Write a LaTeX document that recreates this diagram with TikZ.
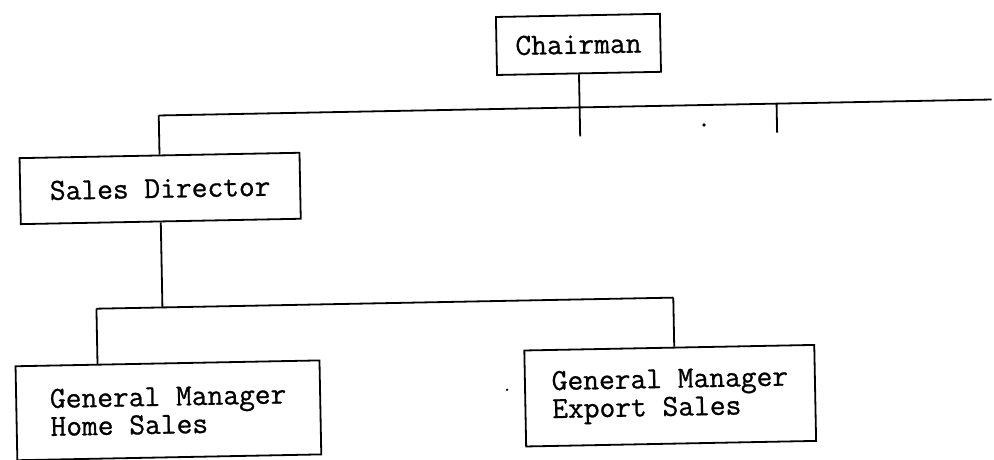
\documentclass[tikz,border=0pt]{standalone}
\usepackage{fontspec}
\setmonofont{Latin Modern Mono}[FakeBold=0.8]
\begin{document}
\begin{tikzpicture}[x=1pt,y=1pt,
  line width=1.8pt,
  orgbox/.style={draw, rectangle, inner sep=0pt, align=left,
    font=\fontsize{30.6}{28}\selectfont\ttfamily},
  link/.style={draw, line width=1.8pt}]
\useasboundingbox (0,0) rectangle (994,460);
\begin{scope}[rotate around={1.1:(497,230)}, transform shape]
  % boxes
  \node[orgbox, minimum width=164pt, minimum height=58pt] (chair) at (582,414) {Chairman};
  \node[orgbox, minimum width=280pt, minimum height=66pt] (sales) at (161,278) {Sales Director};
  \node[orgbox, minimum width=304pt, minimum height=94pt] (home) at (165,56) {General Manager\\Home Sales};
  \node[orgbox, minimum width=290pt, minimum height=96pt] (export) at (667,61) {General Manager\\Export Sales};
  % upper bus and its drop lines
  \coordinate (busL) at (161,351);
  \coordinate (busR) at (994,351);
  \coordinate (chairEnd) at (582,322);
  \coordinate (tick) at (779,351);
  \coordinate (tickEnd) at (779,322);
  \draw[link] (chair.south) -- (chairEnd);
  \draw[link] (busL) -- (busR);
  \draw[link] (busL) -- (sales.north);
  \draw[link] (tick) -- (tickEnd);
  % lower bus
  \coordinate (lowL) at (95,159);
  \coordinate (lowR) at (672,159);
  \draw[link] (sales.south) -- (sales.south |- lowL);
  \draw[link] (lowL) -- (lowR);
  \draw[link] (lowL) -- (lowL |- home.north);
  \draw[link] (lowR) -- (lowR |- export.north);
  % specks
  \fill (706,331) circle (1.8pt);
  \fill (504,70) circle (1.3pt);
\end{scope}
\end{tikzpicture}
\end{document}
